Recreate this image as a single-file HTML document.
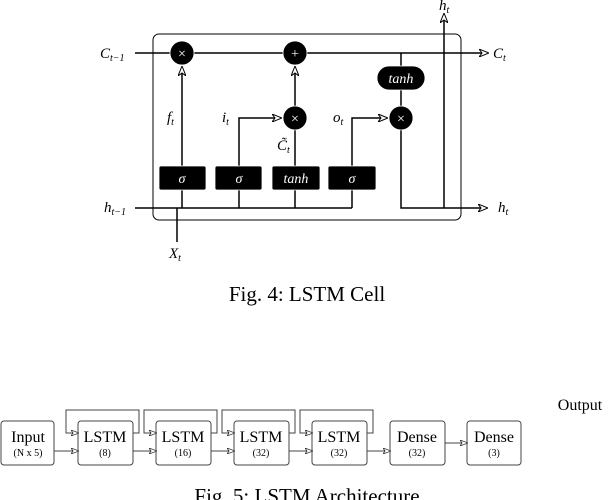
<!DOCTYPE html>
<html><head><style>body{margin:0;background:#fff}svg{display:block}</style></head><body>
<svg width="614" height="500" xmlns="http://www.w3.org/2000/svg" font-family="Liberation Serif, serif">
<defs><marker id="a" markerWidth="10" markerHeight="8" refX="9" refY="4" orient="auto" markerUnits="userSpaceOnUse"><path d="M0,0 L10,4 L0,8 L3,4z" fill="#fff" stroke="#000" stroke-width="1"/></marker>
<marker id="b" markerWidth="8" markerHeight="6" refX="7" refY="3" orient="auto" markerUnits="userSpaceOnUse"><path d="M0,0 L8,3 L0,6 L2,3z" fill="#fff" stroke="#333" stroke-width="0.8"/></marker></defs>
<g stroke="#000" stroke-width="1.5" fill="none">
<rect x="153" y="34" width="308" height="186" rx="6" stroke-width="1"/>
<line x1="135" y1="53" x2="488" y2="53" marker-end="url(#a)"/>
<line x1="182" y1="208" x2="182" y2="67" marker-end="url(#a)"/>
<polyline points="239,208 239,118 281,118" marker-end="url(#a)"/>
<line x1="295" y1="208" x2="295" y2="67" marker-end="url(#a)"/>
<polyline points="352,208 352,118 387,118" marker-end="url(#a)"/>
<line x1="135" y1="208" x2="352" y2="208"/>
<line x1="177" y1="208" x2="177" y2="242"/>
<line x1="401" y1="53" x2="401" y2="118"/>
<polyline points="401,118 401,208 487,208" marker-end="url(#a)"/>
<line x1="444" y1="208" x2="444" y2="14" marker-end="url(#a)"/>
</g>
<g fill="#000" stroke="#fff" stroke-width="0.8">
<rect x="159" y="166" width="47" height="24" rx="2"/><rect x="215" y="166" width="47" height="24" rx="2"/>
<rect x="272" y="166" width="48" height="24" rx="2"/><rect x="328" y="166" width="48" height="24" rx="2"/>
<rect x="377" y="66" width="48" height="24" rx="12"/>
<circle cx="182" cy="53" r="12"/><circle cx="295" cy="53" r="12"/><circle cx="295" cy="118" r="12"/><circle cx="401" cy="118" r="12"/>
</g>
<g fill="#fff" font-style="italic" font-size="14" text-anchor="middle">
<text x="182" y="183">σ</text><text x="239" y="183">σ</text><text x="296" y="183">tanh</text><text x="352" y="183">σ</text><text x="401" y="83">tanh</text>
<text x="182" y="58" font-style="normal">×</text><text x="295" y="58" font-style="normal">+</text><text x="295" y="123" font-style="normal">×</text><text x="401" y="123" font-style="normal">×</text>
</g>
<g font-style="italic" font-size="15">
<text x="100" y="58">C<tspan font-size="10" dy="3">t−1</tspan></text>
<text x="493" y="58">C<tspan font-size="10" dy="3">t</tspan></text>
<text x="104" y="212">h<tspan font-size="10" dy="3">t−1</tspan></text>
<text x="498" y="212">h<tspan font-size="10" dy="3">t</tspan></text>
<text x="439" y="10">h<tspan font-size="10" dy="3">t</tspan></text>
<text x="167" y="122">f<tspan font-size="10" dy="3">t</tspan></text>
<text x="222" y="122">i<tspan font-size="10" dy="3">t</tspan></text>
<text x="333" y="122">o<tspan font-size="10" dy="3">t</tspan></text>
<text x="277" y="150">C̃<tspan font-size="10" dy="3">t</tspan></text>
<text x="169" y="258">X<tspan font-size="10" dy="3">t</tspan></text>
</g>
<text x="307" y="301" font-size="21" text-anchor="middle">Fig. 4: LSTM Cell</text>
<g stroke="#444" stroke-width="1" fill="none">
<rect x="1" y="421" width="53" height="44" rx="3"/>
<rect x="78" y="421" width="55" height="44" rx="3"/>
<rect x="156" y="421" width="55" height="44" rx="3"/>
<rect x="234" y="421" width="55" height="44" rx="3"/>
<rect x="312" y="421" width="55" height="44" rx="3"/>
<rect x="390" y="421" width="55" height="44" rx="3"/>
<rect x="467" y="421" width="54" height="44" rx="3"/>
<line x1="54" y1="451" x2="78" y2="451" marker-end="url(#b)"/>
<line x1="133" y1="451" x2="156" y2="451" marker-end="url(#b)"/>
<line x1="211" y1="451" x2="234" y2="451" marker-end="url(#b)"/>
<line x1="289" y1="451" x2="312" y2="451" marker-end="url(#b)"/>
<line x1="367" y1="451" x2="390" y2="451" marker-end="url(#b)"/>
<line x1="445" y1="443" x2="467" y2="443" marker-end="url(#b)"/>
<polyline points="133,433 139,433 139,410 66,410 66,433 78,433" marker-end="url(#b)"/>
<polyline points="211,433 217,433 217,410 144,410 144,433 156,433" marker-end="url(#b)"/>
<polyline points="289,433 295,433 295,410 222,410 222,433 234,433" marker-end="url(#b)"/>
<polyline points="367,433 373,433 373,410 300,410 300,433 312,433" marker-end="url(#b)"/>
</g>
<g font-size="16" text-anchor="middle">
<text x="28" y="442">Input</text><text x="28" y="456" font-size="10">(N x 5)</text>
<text x="105" y="442">LSTM</text><text x="105" y="456" font-size="10">(8)</text>
<text x="183" y="442">LSTM</text><text x="183" y="456" font-size="10">(16)</text>
<text x="261" y="442">LSTM</text><text x="261" y="456" font-size="10">(32)</text>
<text x="339" y="442">LSTM</text><text x="339" y="456" font-size="10">(32)</text>
<text x="417" y="442">Dense</text><text x="417" y="456" font-size="10">(32)</text>
<text x="494" y="442">Dense</text><text x="494" y="456" font-size="10">(3)</text>
<text x="580" y="410">Output</text>
</g>
<text x="307" y="503" font-size="21" text-anchor="middle">Fig. 5: LSTM Architecture</text>
</svg>
</body></html>
